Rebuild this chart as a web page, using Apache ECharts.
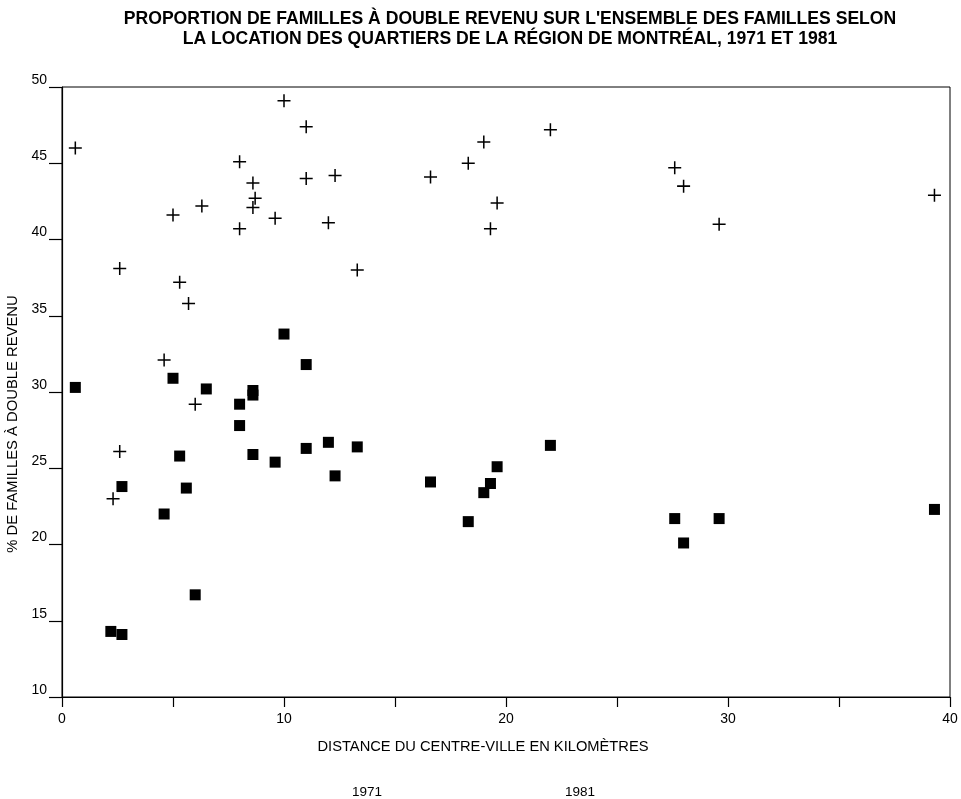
<!DOCTYPE html>
<html>
<head>
<meta charset="utf-8">
<script src="https://cdn.jsdelivr.net/npm/echarts@6/dist/echarts.min.js"></script>
<style>
html,body{margin:0;padding:0;background:#fff;}
#chart{width:961px;height:799px;}
</style>
</head>
<body>
<div id="chart"></div>
<script>
// 1971 (squares)
const distance1971 = [10.0, 11.0, 5.0, 0.6, 6.5, 8.6, 8.6, 8.0, 8.0, 5.3, 8.6, 9.6, 11.0, 12.0, 2.7, 5.6, 4.6, 6.0, 2.2, 2.7, 13.3, 12.3, 16.6, 18.3, 19.0, 19.3, 19.6, 22.0, 27.6, 28.0, 29.6, 39.3];
const share1971    = [33.8, 31.8, 30.9, 30.3, 30.2, 30.1, 29.8, 29.2, 27.8, 25.8, 25.9, 25.4, 26.3, 26.7, 23.8, 23.7, 22.0, 16.7, 14.3, 14.1, 26.4, 24.5, 24.1, 21.5, 23.4, 24.0, 25.1, 26.5, 21.7, 20.1, 21.7, 22.3];
// 1981 (crosses)
const distance1981 = [0.6, 10.0, 11.0, 8.0, 8.6, 8.7, 8.6, 6.3, 5.0, 8.0, 9.6, 11.0, 12.0, 2.6, 5.3, 5.7, 4.6, 6.0, 2.6, 2.3, 12.3, 13.3, 16.6, 18.3, 19.0, 22.0, 19.6, 19.3, 27.6, 28.0, 29.6, 39.3];
const share1981    = [46.0, 49.1, 47.4, 45.1, 43.7, 42.7, 42.1, 42.2, 41.6, 40.7, 41.4, 44.0, 41.1, 38.1, 37.2, 35.8, 32.1, 29.2, 26.1, 23.0, 44.2, 38.0, 44.1, 45.0, 46.4, 47.2, 42.4, 40.7, 44.7, 43.5, 41.0, 42.9];

const seriesNames = ['1971', '1981'];
const titleLines = ['PROPORTION DE FAMILLES À DOUBLE REVENU SUR L\'ENSEMBLE DES FAMILLES SELON', 'LA LOCATION DES QUARTIERS DE LA RÉGION DE MONTRÉAL, 1971 ET 1981'];
const xAxisTitle = 'DISTANCE DU CENTRE-VILLE EN KILOMÈTRES';
const yAxisTitle = '% DE FAMILLES À DOUBLE REVENU';

const pts1971 = distance1971.map((d, i) => [d, share1971[i]]);
const pts1981 = distance1981.map((d, i) => [d, share1981[i]]);

const crossPath = 'path://M0 10.6H24V13.4H0Z M10.6 0H13.4V24H10.6Z';
const FONT = 'Liberation Sans, Arial, sans-serif';

const chart = echarts.init(document.getElementById('chart'), null, {renderer: 'canvas'});
chart.setOption({
  animation: false,
  backgroundColor: '#fff',
  title: {
    text: titleLines.join('\n'),
    left: 505,
    textAlign: 'center',
    top: 4,
    textStyle: {fontFamily: FONT, fontWeight: 'bold', fontSize: 17.6, lineHeight: 20, color: '#000'}
  },
  legend: [
    {data: [seriesNames[0]], left: 342, top: 780, itemWidth: 0, itemHeight: 0, icon: 'rect', selectedMode: false,
     textStyle: {fontFamily: FONT, fontSize: 13.5, color: '#000'}},
    {data: [seriesNames[1]], left: 555, top: 780, itemWidth: 0, itemHeight: 0, icon: 'rect', selectedMode: false,
     textStyle: {fontFamily: FONT, fontSize: 13.5, color: '#000'}}
  ],
  grid: {left: 62, right: 11, top: 87, bottom: 102, containLabel: false, outerBoundsMode: 'none',
         show: true, borderColor: '#000', borderWidth: 1, backgroundColor: 'transparent'},
  xAxis: {
    type: 'value', min: 0, max: 40, interval: 5,
    name: xAxisTitle, nameLocation: 'middle', nameGap: 42,
    nameTextStyle: {fontFamily: FONT, fontSize: 14.7, color: '#000', padding: [0, 46, 0, 0]},
    axisLine: {show: true, lineStyle: {color: '#000', width: 1.2}},
    axisTick: {show: true, inside: false, length: 10, lineStyle: {color: '#000', width: 1.2}},
    axisLabel: {fontFamily: FONT, fontSize: 14, color: '#000', margin: 15,
      formatter: v => (v % 10 === 0 ? String(v) : '')},
    splitLine: {show: false}
  },
  yAxis: {
    type: 'value', min: 10, max: 50, interval: 5,
    name: yAxisTitle, nameLocation: 'middle', nameGap: 41, nameRotate: 90,
    nameTextStyle: {fontFamily: FONT, fontSize: 14.8, color: '#000', padding: [0, 64, 0, 0]},
    axisLine: {show: true, lineStyle: {color: '#000', width: 1.2}},
    axisTick: {show: true, inside: false, length: 13, lineStyle: {color: '#000', width: 1.2}},
    axisLabel: {fontFamily: FONT, fontSize: 14, color: '#000', margin: 15, verticalAlign: 'bottom', lineHeight: 14, padding: [0, 0, 0, 0]},
    splitLine: {show: false}
  },
  series: [
    {name: seriesNames[0], type: 'scatter', data: pts1971, symbol: 'rect', symbolSize: 11,
     itemStyle: {color: '#000', opacity: 1}},
    {name: seriesNames[1], type: 'scatter', data: pts1981, symbol: crossPath, symbolSize: 13,
     itemStyle: {color: '#000', opacity: 1}}
  ]
});
</script>
</body>
</html>
